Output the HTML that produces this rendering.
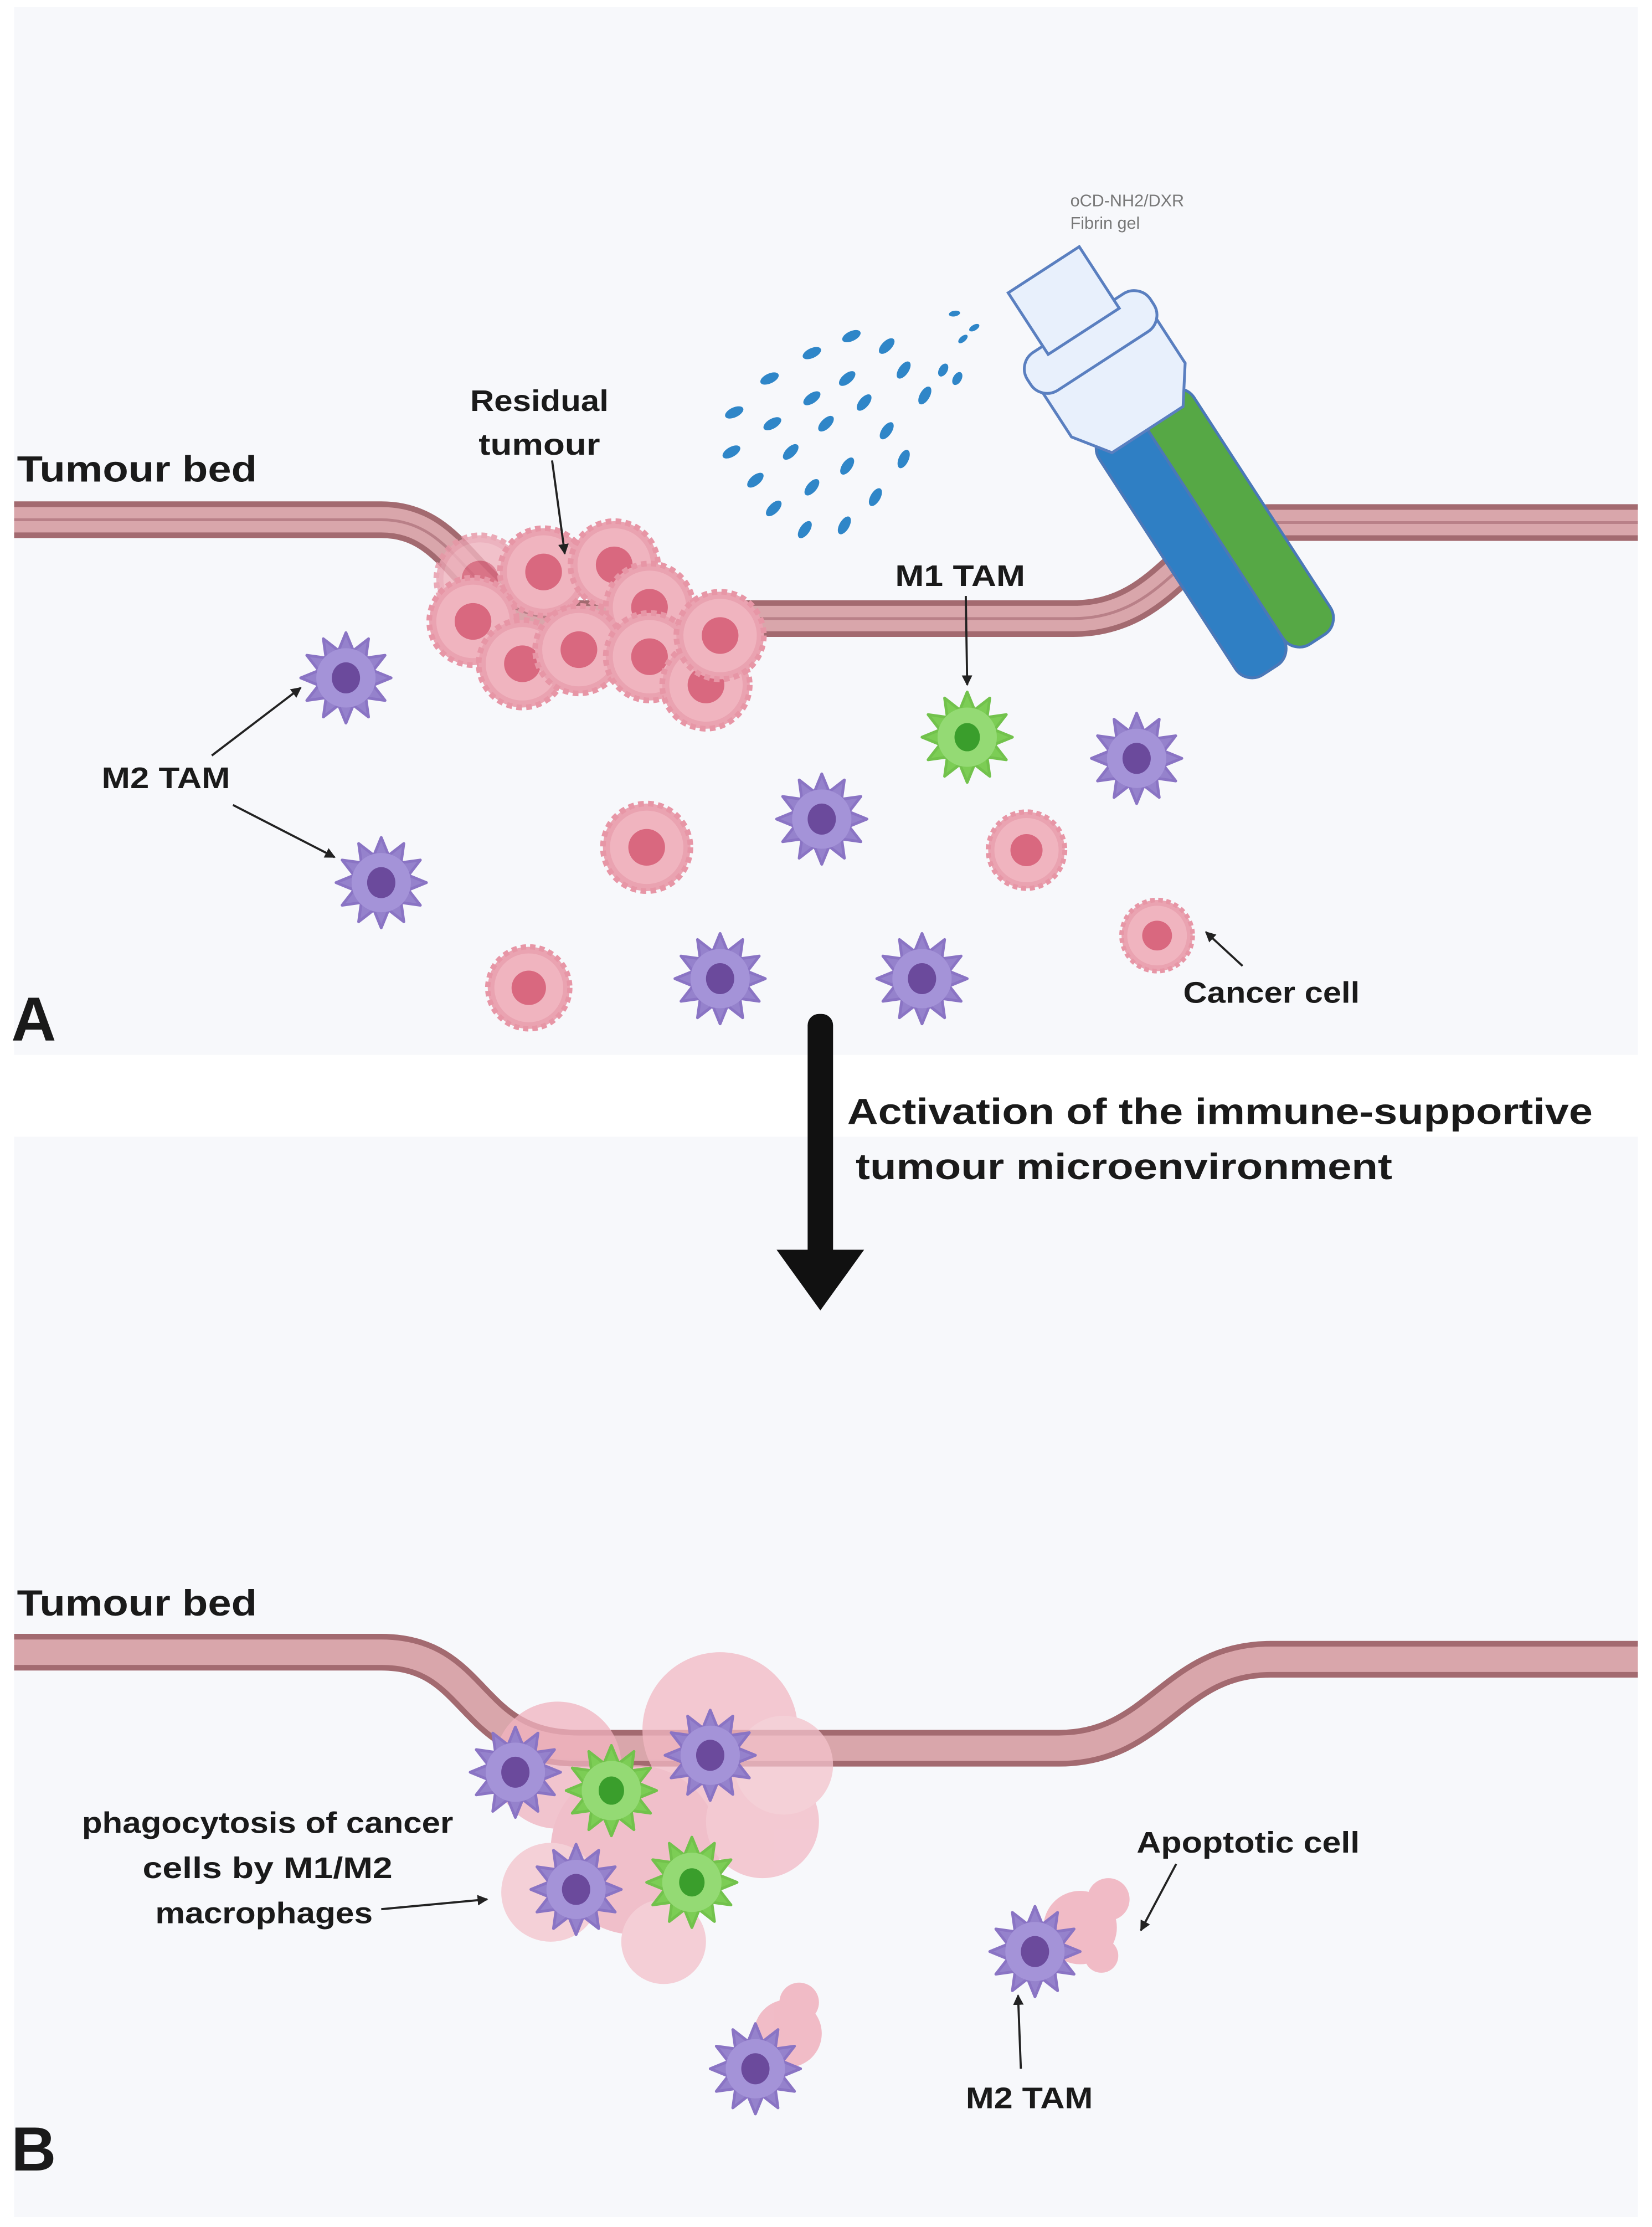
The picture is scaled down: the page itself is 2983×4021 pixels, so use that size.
<!DOCTYPE html>
<html><head><meta charset="utf-8"><style>
html,body{margin:0;padding:0;background:#fff}
svg{display:block}
text{font-family:"Liberation Sans",sans-serif;font-weight:bold;fill:#1a1a1a}
</style></head><body>
<svg width="2983" height="4021" viewBox="0 0 1170 1577" xmlns="http://www.w3.org/2000/svg">
<defs>
<marker id="ah" viewBox="0 0 10 10" refX="9" refY="5" markerWidth="5" markerHeight="5" orient="auto"><path d="M0,0 L10,5 L0,10 Z" fill="#222"/></marker>
<symbol id="mac" viewBox="-40 -40 80 80" overflow="visible">
<polygon points="32,0 19.3,5.2 27.7,16 14.1,14.1 16,27.7 5.2,19.3 0,32 -5.2,19.3 -16,27.7 -14.1,14.1 -27.7,16 -19.3,5.2 -32,0 -19.3,-5.2 -27.7,-16 -14.1,-14.1 -16,-27.7 -5.2,-19.3 0,-32 5.2,-19.3 16,-27.7 14.1,-14.1 27.7,-16 19.3,-5.2" fill="#9582cc" stroke="#8a74c4" stroke-width="2" stroke-linejoin="round"/>
<circle r="21" fill="#a493d8"/>
<ellipse rx="10" ry="11" fill="#6b4a9c"/>
</symbol>
<symbol id="m1" viewBox="-40 -40 80 80" overflow="visible">
<polygon points="32,0 19.3,5.2 27.7,16 14.1,14.1 16,27.7 5.2,19.3 0,32 -5.2,19.3 -16,27.7 -14.1,14.1 -27.7,16 -19.3,5.2 -32,0 -19.3,-5.2 -27.7,-16 -14.1,-14.1 -16,-27.7 -5.2,-19.3 0,-32 5.2,-19.3 16,-27.7 14.1,-14.1 27.7,-16 19.3,-5.2" fill="#7ccd55" stroke="#72c24c" stroke-width="2" stroke-linejoin="round"/>
<circle r="21" fill="#94da74"/>
<ellipse rx="9" ry="10" fill="#3a9e2c"/>
</symbol>
<symbol id="cc" viewBox="-40 -40 80 80" overflow="visible">
<circle r="31" fill="#eaa3b1" stroke="#e796a6" stroke-width="4" stroke-dasharray="4 3"/>
<circle r="26" fill="#f0b4bf"/>
<circle r="13" fill="#d9687f"/>
</symbol>
</defs>
<rect width="1170" height="1577" fill="#fff"/>
<rect x="10" y="5" width="1150" height="742" fill="#f7f8fb"/>
<rect x="10" y="805" width="1150" height="765" fill="#f7f8fb"/>

<g fill="none">
<path d="M10,368 L270,368 C330,368 330,438 400,438 L760,438 C830,438 840,370 900,370 L1160,370" stroke="#a36a70" stroke-width="26"/>
<path d="M10,368 L270,368 C330,368 330,438 400,438 L760,438 C830,438 840,370 900,370 L1160,370" stroke="#d9a6ab" stroke-width="18"/>
<path d="M10,368 L270,368 C330,368 330,438 400,438 L760,438 C830,438 840,370 900,370 L1160,370" stroke="#b98088" stroke-width="2"/>
</g>
<g>
<use href="#cc" x="300" y="370" width="80" height="80" opacity="0.8"/>
<use href="#cc" x="345" y="365" width="80" height="80"/>
<use href="#cc" x="395" y="360" width="80" height="80"/>
<use href="#cc" x="420" y="390" width="80" height="80"/>
<use href="#cc" x="295" y="400" width="80" height="80"/>
<use href="#cc" x="330" y="430" width="80" height="80"/>
<use href="#cc" x="370" y="420" width="80" height="80"/>
<use href="#cc" x="420" y="425" width="80" height="80"/>
<use href="#cc" x="460" y="445" width="80" height="80"/>
<use href="#cc" x="470" y="410" width="80" height="80"/>
</g>
<g fill="#2f86c8">
<ellipse cx="520" cy="292" rx="7" ry="3.5" transform="rotate(-25 520 292)"/>
<ellipse cx="545" cy="268" rx="7" ry="3.5" transform="rotate(-25 545 268)"/>
<ellipse cx="575" cy="250" rx="7" ry="3.5" transform="rotate(-25 575 250)"/>
<ellipse cx="603" cy="238" rx="7" ry="3.5" transform="rotate(-25 603 238)"/>
<ellipse cx="518" cy="320" rx="7" ry="3.5" transform="rotate(-30 518 320)"/>
<ellipse cx="547" cy="300" rx="7" ry="3.5" transform="rotate(-30 547 300)"/>
<ellipse cx="575" cy="282" rx="7" ry="3.5" transform="rotate(-35 575 282)"/>
<ellipse cx="600" cy="268" rx="7" ry="3.5" transform="rotate(-40 600 268)"/>
<ellipse cx="628" cy="245" rx="7" ry="3.5" transform="rotate(-45 628 245)"/>
<ellipse cx="535" cy="340" rx="7" ry="3.5" transform="rotate(-40 535 340)"/>
<ellipse cx="560" cy="320" rx="7" ry="3.5" transform="rotate(-45 560 320)"/>
<ellipse cx="585" cy="300" rx="7" ry="3.5" transform="rotate(-45 585 300)"/>
<ellipse cx="612" cy="285" rx="7" ry="3.5" transform="rotate(-50 612 285)"/>
<ellipse cx="640" cy="262" rx="7" ry="3.5" transform="rotate(-55 640 262)"/>
<ellipse cx="548" cy="360" rx="7" ry="3.5" transform="rotate(-45 548 360)"/>
<ellipse cx="575" cy="345" rx="7" ry="3.5" transform="rotate(-50 575 345)"/>
<ellipse cx="600" cy="330" rx="7" ry="3.5" transform="rotate(-55 600 330)"/>
<ellipse cx="628" cy="305" rx="7" ry="3.5" transform="rotate(-55 628 305)"/>
<ellipse cx="655" cy="280" rx="7" ry="3.5" transform="rotate(-60 655 280)"/>
<ellipse cx="570" cy="375" rx="7" ry="3.5" transform="rotate(-55 570 375)"/>
<ellipse cx="598" cy="372" rx="7" ry="3.5" transform="rotate(-60 598 372)"/>
<ellipse cx="620" cy="352" rx="7" ry="3.5" transform="rotate(-60 620 352)"/>
<ellipse cx="640" cy="325" rx="7" ry="3.5" transform="rotate(-65 640 325)"/>
<ellipse cx="668" cy="262" rx="5" ry="3" transform="rotate(-60 668 262)"/>
<ellipse cx="678" cy="268" rx="5" ry="3" transform="rotate(-60 678 268)"/>
<ellipse cx="682" cy="240" rx="4" ry="2" transform="rotate(-40 682 240)"/>
<ellipse cx="690" cy="232" rx="4" ry="2" transform="rotate(-30 690 232)"/>
<ellipse cx="676" cy="222" rx="4" ry="2" transform="rotate(-10 676 222)"/>
</g>
<g transform="translate(10,0) rotate(-33 800 300)">
<rect x="760" y="290" width="40" height="205" rx="14" fill="#2f7fc4" stroke="#4a78b8" stroke-width="2"/>
<rect x="800" y="290" width="40" height="205" rx="14" fill="#56a845" stroke="#4a78b8" stroke-width="2"/>
<path d="M752,240 L848,240 L848,280 L830,305 L770,305 L752,280 Z" fill="#e8f0fc" stroke="#5a7fc0" stroke-width="2"/>
<rect x="748" y="215" width="104" height="32" rx="14" fill="#e8f0fc" stroke="#5a7fc0" stroke-width="2"/>
<rect x="770" y="170" width="60" height="52" fill="#e8f0fc" stroke="#5a7fc0" stroke-width="2"/>
</g>
<text x="758" y="146" font-size="12" style="font-weight:normal;fill:#777">oCD-NH2/DXR</text>
<text x="758" y="162" font-size="12" style="font-weight:normal;fill:#777">Fibrin gel</text>

<use href="#mac" x="205" y="440" width="80" height="80"/>
<use href="#mac" x="230" y="585" width="80" height="80"/>
<use href="#m1" x="645" y="482" width="80" height="80"/>
<use href="#mac" x="765" y="497" width="80" height="80"/>
<use href="#mac" x="542" y="540" width="80" height="80"/>
<use href="#cc" x="418" y="560" width="80" height="80"/>
<use href="#cc" x="692" y="567" width="70" height="70"/>
<use href="#cc" x="787" y="630" width="65" height="65"/>
<use href="#cc" x="337" y="662" width="75" height="75"/>
<use href="#mac" x="470" y="653" width="80" height="80"/>
<use href="#mac" x="613" y="653" width="80" height="80"/>

<text x="12" y="341" font-size="26" textLength="170" lengthAdjust="spacingAndGlyphs">Tumour bed</text>
<text x="333" y="291" font-size="21" textLength="98" lengthAdjust="spacingAndGlyphs">Residual</text>
<text x="339" y="322" font-size="21" textLength="86" lengthAdjust="spacingAndGlyphs">tumour</text>
<text x="634" y="415" font-size="21" textLength="92" lengthAdjust="spacingAndGlyphs">M1 TAM</text>
<text x="72" y="558" font-size="21" textLength="91" lengthAdjust="spacingAndGlyphs">M2 TAM</text>
<text x="838" y="710" font-size="21" textLength="125" lengthAdjust="spacingAndGlyphs">Cancer cell</text>
<text x="8" y="737" font-size="44">A</text>
<g stroke="#222" stroke-width="1.5" fill="none" marker-end="url(#ah)">
<line x1="391" y1="326" x2="400" y2="392"/>
<line x1="684" y1="422" x2="685" y2="485"/>
<line x1="150" y1="535" x2="213" y2="487"/>
<line x1="165" y1="570" x2="237" y2="607"/>
<line x1="880" y1="684" x2="854" y2="660"/>
</g>

<rect x="572" y="718" width="18" height="180" rx="8" fill="#111"/>
<polygon points="550,885 612,885 581,928" fill="#111"/>
<text x="600" y="796" font-size="26" textLength="528" lengthAdjust="spacingAndGlyphs">Activation of the  immune-supportive</text>
<text x="606" y="835" font-size="26" textLength="380" lengthAdjust="spacingAndGlyphs">tumour microenvironment</text>

<g fill="none">
<path d="M10,1170 L270,1170 C340,1170 330,1238 410,1238 L750,1238 C820,1238 830,1175 900,1175 L1160,1175" stroke="#a36a70" stroke-width="26"/>
<path d="M10,1170 L270,1170 C340,1170 330,1238 410,1238 L750,1238 C820,1238 830,1175 900,1175 L1160,1175" stroke="#d9a6ab" stroke-width="18"/>
</g>
<g opacity="0.75">
<circle cx="395" cy="1250" r="45" fill="#f0b3bf"/>
<circle cx="510" cy="1225" r="55" fill="#f2b8c3"/>
<circle cx="450" cy="1310" r="60" fill="#eeadba"/>
<circle cx="540" cy="1290" r="40" fill="#f2bac5"/>
<circle cx="390" cy="1340" r="35" fill="#f4c3cc"/>
<circle cx="470" cy="1375" r="30" fill="#f3c0ca"/>
<circle cx="555" cy="1250" r="35" fill="#f4c3cc"/>
</g>
<use href="#mac" x="325" y="1215" width="80" height="80"/>
<use href="#m1" x="393" y="1228" width="80" height="80"/>
<use href="#mac" x="463" y="1203" width="80" height="80"/>
<use href="#mac" x="368" y="1298" width="80" height="80"/>
<use href="#m1" x="450" y="1293" width="80" height="80"/>
<g fill="#f0b1bd" opacity="0.85">
<circle cx="765" cy="1365" r="26"/><circle cx="785" cy="1345" r="15"/><circle cx="780" cy="1385" r="12"/>
<circle cx="558" cy="1440" r="24"/><circle cx="566" cy="1418" r="14"/>
</g>
<use href="#mac" x="693" y="1342" width="80" height="80"/>
<use href="#mac" x="495" y="1425" width="80" height="80"/>

<text x="12" y="1144" font-size="26" textLength="170" lengthAdjust="spacingAndGlyphs">Tumour bed</text>
<text x="58" y="1298" font-size="21" textLength="263" lengthAdjust="spacingAndGlyphs">phagocytosis of cancer</text>
<text x="101" y="1330" font-size="21" textLength="177" lengthAdjust="spacingAndGlyphs">cells by  M1/M2</text>
<text x="110" y="1362" font-size="21" textLength="154" lengthAdjust="spacingAndGlyphs">macrophages</text>
<text x="805" y="1312" font-size="21" textLength="158" lengthAdjust="spacingAndGlyphs">Apoptotic cell</text>
<text x="684" y="1493" font-size="21" textLength="90" lengthAdjust="spacingAndGlyphs">M2 TAM</text>
<text x="8" y="1537" font-size="44">B</text>
<g stroke="#222" stroke-width="1.5" fill="none" marker-end="url(#ah)">
<line x1="270" y1="1352" x2="345" y2="1345"/>
<line x1="833" y1="1320" x2="808" y2="1367"/>
<line x1="723" y1="1465" x2="721" y2="1413"/>
</g>
</svg>
</body></html>
